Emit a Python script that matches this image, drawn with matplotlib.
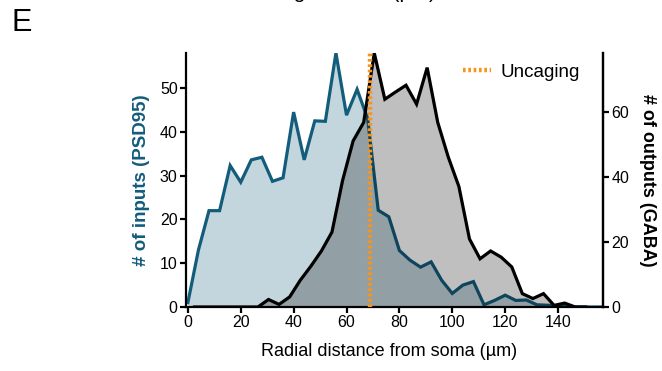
import numpy as np
import matplotlib
matplotlib.use("Agg")
import matplotlib.pyplot as plt

plt.rcParams['font.family'] = ['Liberation Sans', 'DejaVu Sans']

# Data
inputs_x = np.arange(0, 160, 4)
inputs_y = [1, 13, 22, 22, 32.3, 28.5, 33.6, 34.2, 28.7, 29.5,
            44.5, 33.6, 42.5, 42.4, 58, 43.8, 49.7, 43.0, 22.1, 20.6,
            12.9, 10.7, 9.1, 10.3, 6.1, 3.1, 5.0, 5.8, 0.5, 1.5,
            2.7, 1.5, 1.6, 0.5, 0.4, 0.3, 0.1, 0, 0, 0]
outputs_x = np.arange(2.5, 152, 4)
outputs_y = [0, 0, 0, 0, 0, 0, 0, 2.3, 0.8, 3.1,
             8.2, 12.5, 17.2, 23, 38.8, 51, 56.7, 78, 63.8, 66,
             68.1, 62.3, 73.5, 56.7, 46, 37, 20.9, 14.8, 17.2, 15.3,
             12.3, 4.1, 2.6, 4.1, 0.5, 1.2, 0, 0]
uncaging_x = 69
left_ticks = [0, 10, 20, 30, 40, 50]
right_ticks = [0, 20, 40, 60]
x_ticks = [0, 20, 40, 60, 80, 100, 120, 140]

blue = '#135c7b'
orange = '#f7941d'

fig = plt.figure(figsize=(6.62, 3.71), dpi=100)
ax = fig.add_axes([186/662, 1-307/371, (603-186)/662, (307-53)/371])
ax2 = ax.twinx()

ax.fill_between(inputs_x, 0, inputs_y, color=blue, alpha=0.25, lw=0)
ax.plot(inputs_x, inputs_y, color=blue, lw=2.3, solid_joinstyle='miter')

ax2.fill_between(outputs_x, 0, outputs_y, color='black', alpha=0.25, lw=0)
ax2.plot(outputs_x, outputs_y, color='black', lw=2.3, solid_joinstyle='miter')
ax2.axvline(uncaging_x, color=orange, lw=3.2, linestyle=(0, (0.6, 0.6)), label='Uncaging')

ax.set_xlim(-0.7, 157)
ax.set_ylim(0, 58)
ax2.set_ylim(0, 78)

ax.set_xticks(x_ticks)
ax.set_yticks(left_ticks)
ax2.set_yticks(right_ticks)

for a in (ax, ax2):
    a.spines['top'].set_visible(False)
    for s in a.spines.values():
        s.set_linewidth(1.6)
    a.tick_params(width=1.6, length=4, labelsize=11.5, pad=2)
ax2.spines['left'].set_visible(False)
ax2.spines['bottom'].set_visible(False)

ax.set_xlabel('Radial distance from soma (µm)', fontsize=13, labelpad=5)
ax.xaxis.set_label_coords(0.487, -0.14)
ax.set_ylabel('# of inputs (PSD95)', fontsize=13.5, fontweight='bold', color=blue, labelpad=7)
ax2.set_ylabel('# of outputs (GABA)', fontsize=13, fontweight='bold', color='black',
               rotation=270, labelpad=19)

leg = ax2.legend(loc='upper right', frameon=False, fontsize=13.5, handlelength=1.5,
                 handletextpad=0.5, bbox_to_anchor=(0.985, 1.025))

fig.text(11/662, 1-23/371, 'E', fontsize=22, va='center', ha='left')
fig.text(167/662, 1 + 2/371, 'Distance along dendrite (µm)', fontsize=15,
         ha='left', va='baseline')

fig.savefig('out.png', dpi=100)
